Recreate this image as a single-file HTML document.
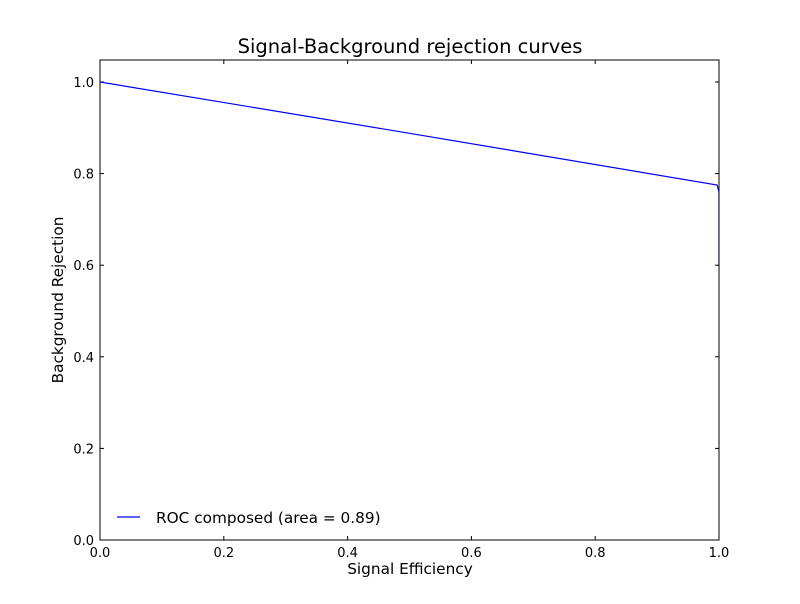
<!DOCTYPE html>
<html><head><meta charset="utf-8"><style>
body{margin:0;background:#fff;font-family:"DejaVu Sans","Liberation Sans",sans-serif}
</style></head><body>
<svg width="800" height="600" xmlns="http://www.w3.org/2000/svg" font-family="DejaVu Sans, Liberation Sans, sans-serif">
<rect width="800" height="600" fill="#fff"/>
<text x="410" y="53" text-anchor="middle" font-size="19.5">Signal-Background rejection curves</text>
<defs><clipPath id="c"><rect x="100" y="60" width="619" height="480"/></clipPath></defs>
<g id="ticks"></g>
<polyline id="curve" clip-path="url(#c)" fill="none" stroke="#0000ff" stroke-width="1.2"/>
<rect x="100" y="60" width="619" height="480" fill="none" stroke="#000"/>
<text x="410" y="574" text-anchor="middle" font-size="15.3">Signal Efficiency</text>
<text transform="translate(63,300) rotate(-90)" text-anchor="middle" font-size="15.3">Background Rejection</text>
<g>
<line x1="117" y1="517" x2="140" y2="517" stroke="#0000ff" stroke-width="1.2"/>
<text x="156" y="523" font-size="15.3">ROC composed (area = 0.89)</text>
</g>
</svg>
<script>
const xs=[0.0,0.5,0.997,1.0,1.0];
const ys=[1.0,0.888,0.775,0.76,0.6];
const xTicks=[0,0.2,0.4,0.6,0.8,1.0];
const yTicks=[0,0.2,0.4,0.6,0.8,1.0];
const X=v=>100+v*619, Y=v=>540-v*458;
document.getElementById('curve').setAttribute('points',xs.map((x,i)=>X(x)+','+Y(ys[i])).join(' '));
const g=document.getElementById('ticks');const ns='http://www.w3.org/2000/svg';
function mk(t,a,txt){const e=document.createElementNS(ns,t);for(const k in a)e.setAttribute(k,a[k]);if(txt!==undefined)e.textContent=txt;g.appendChild(e);return e;}
xTicks.forEach(v=>{const x=X(v);
mk('line',{x1:x,x2:x,y1:540,y2:536,stroke:'#000'});mk('line',{x1:x,x2:x,y1:60,y2:64,stroke:'#000'});
const t=mk('text',{x:x,y:557,'text-anchor':'middle','font-size':13},v.toFixed(1));

});
yTicks.forEach(v=>{const y=Y(v);
mk('line',{x1:100,x2:104,y1:y,y2:y,stroke:'#000'});mk('line',{x1:719,x2:715,y1:y,y2:y,stroke:'#000'});
const t=mk('text',{x:94,y:y+5,'text-anchor':'end','font-size':13},v.toFixed(1));

});
</script>
</body></html>
